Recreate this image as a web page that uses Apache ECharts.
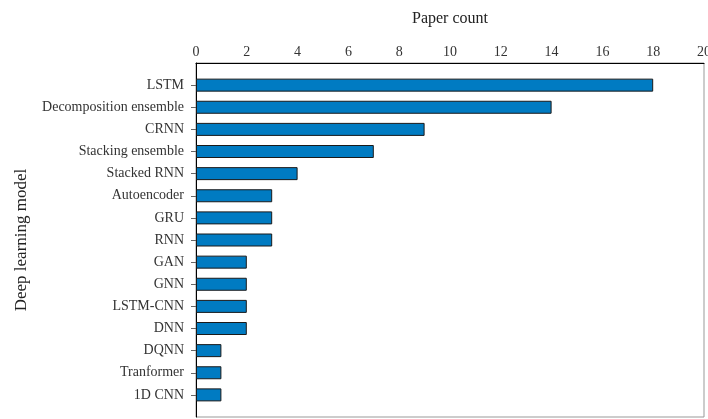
<!DOCTYPE html>
<html><head><meta charset="utf-8">
<script src="https://cdn.jsdelivr.net/npm/echarts@6/dist/echarts.min.js"></script>
<style>html,body{margin:0;padding:0;background:#fff}#c{width:708px;height:419px}</style>
</head><body><div id="c"></div>
<script>
const categories = ['LSTM','Decomposition ensemble','CRNN','Stacking ensemble','Stacked RNN','Autoencoder','GRU','RNN','GAN','GNN','LSTM-CNN','DNN','DQNN','Tranformer','1D CNN'];
const paperCounts = [18,14,9,7,4,3,3,3,2,2,2,2,1,1,1];
const xTicks = [0,2,4,6,8,10,12,14,16,18,20];

const font = 'Liberation Serif';
const axisCats = [''].concat(categories, ['']);
const axisVals = ['-'].concat(paperCounts, ['-']);

const chart = echarts.init(document.getElementById('c'), null, {renderer:'canvas'});
chart.setOption({
  animation:false,
  textStyle:{fontFamily:font},
  grid:{left:196, top:63, right:4, bottom:2, show:true, borderColor:'#999', borderWidth:1, containLabel:false, outerBoundsMode:'none'},
  xAxis:{
    type:'value', position:'top', min:xTicks[0], max:xTicks[xTicks.length-1], interval:2,
    name:'Paper count', nameLocation:'middle', nameGap:36,
    nameTextStyle:{fontFamily:font, fontSize:16, color:'#222'},
    axisLine:{show:true, lineStyle:{color:'#000', width:1}},
    axisTick:{show:false},
    splitLine:{show:false},
    axisLabel:{fontFamily:font, fontSize:14, color:'#333', margin:4, showMaxLabel:true}
  },
  yAxis:{
    type:'category', data:axisCats, inverse:true, boundaryGap:false,
    name:'Deep learning model', nameLocation:'middle', nameGap:166, nameRotate:90,
    nameTextStyle:{fontFamily:font, fontSize:17, color:'#222'},
    axisLine:{show:true, lineStyle:{color:'#000', width:1}},
    axisTick:{show:true, length:5, interval:(i,v)=>v!=='', lineStyle:{color:'#666'}},
    axisLabel:{fontFamily:font, fontSize:14, color:'#333', margin:12, interval:0},
    splitLine:{show:false}
  },
  series:[{
    type:'bar', data:axisVals, barWidth:13,
    itemStyle:{color:'#007bc2', borderColor:'#1a1a1a', borderWidth:1}
  }]
});
</script></body></html>
